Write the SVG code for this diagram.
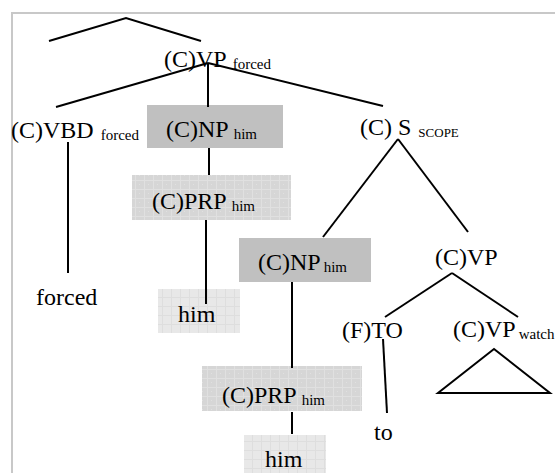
<svg xmlns="http://www.w3.org/2000/svg" width="555" height="473" viewBox="0 0 555 473" font-family="'Liberation Serif', 'DejaVu Serif', serif">
<style>
text{font-family:"Liberation Serif","DejaVu Serif",serif;fill:#000}
.m{font-size:24px}
.s{font-size:15px}
.sc{font-size:13px}
.e{stroke:#000;stroke-width:2;fill:none}
.g{fill:#c0c0c0}
.p1{fill:url(#pat1)}
.p2{fill:url(#pat2)}
</style>
<defs>
<pattern id="pat1" width="9" height="9" patternUnits="userSpaceOnUse">
<rect width="9" height="9" fill="#d6d6d6"/>
<path d="M0 0.5H9M0.5 0V9" stroke="#e0e0e0" stroke-width="1"/>
<rect x="4" y="4" width="1" height="1" fill="#e0e0e0"/>
</pattern>
<pattern id="pat2" width="9" height="9" patternUnits="userSpaceOnUse">
<rect width="9" height="9" fill="#e8e8e8"/>
<path d="M0 0.5H9M0.5 0V9" stroke="#dedede" stroke-width="1"/>
</pattern>
</defs>
<rect width="555" height="473" fill="#fff"/>
<path d="M12 473V13H555" stroke="#c8c8c8" stroke-width="2" fill="none"/>

<g id="connectors">
<polyline class="e" points="49,41 126,18 201,41"/>
<line class="e" x1="208" y1="63" x2="56" y2="107"/>
<line class="e" x1="208" y1="63" x2="208" y2="107"/>
<line class="e" x1="208" y1="63" x2="383" y2="106"/>
<line class="e" x1="68" y1="142" x2="68" y2="273"/>
<line class="e" x1="209" y1="142" x2="209" y2="183"/>
<line class="e" x1="206" y1="216" x2="206" y2="304"/>
<line class="e" x1="398" y1="139" x2="323" y2="237"/>
<line class="e" x1="398" y1="139" x2="468" y2="232"/>
<line class="e" x1="292" y1="280" x2="292" y2="368"/>
<line class="e" x1="292" y1="412" x2="292" y2="434"/>
<line class="e" x1="452" y1="273" x2="385" y2="317"/>
<line class="e" x1="452" y1="273" x2="518" y2="317"/>
<line class="e" x1="383" y1="339" x2="387" y2="413"/>
<polygon class="e" points="494,349 438,393 550,393"/>
</g>

<g id="vp-forced">
<text x="164" y="67"><tspan class="m">(C)VP</tspan><tspan class="s" dx="6" dy="2">forced</tspan></text>
</g>
<g id="vbd-forced">
<text x="11" y="138"><tspan class="m">(C)VBD</tspan><tspan class="s" dx="7" dy="2">forced</tspan></text>
</g>
<g id="np-him-1">
<rect class="g" x="147" y="105" width="136" height="43"/>
<line class="e" x1="208" y1="105" x2="208" y2="107"/>
<text x="166" y="137"><tspan class="m">(C)NP</tspan><tspan class="s" dx="5" dy="2">him</tspan></text>
</g>
<g id="prp-him-1">
<rect class="p1" x="132" y="175" width="159" height="45"/>
<text x="152" y="209"><tspan class="m">(C)PRP</tspan><tspan class="s" dx="5" dy="2">him</tspan></text>
</g>
<g id="him-1">
<rect class="p2" x="158" y="289" width="82" height="44"/>
<line class="e" x1="206" y1="289" x2="206" y2="304"/>
<text class="m" x="178" y="322">him</text>
</g>
<g id="forced-leaf">
<text class="m" x="36" y="305">forced</text>
</g>
<g id="s-scope">
<text x="360" y="135"><tspan class="m">(C) S</tspan><tspan class="sc" dx="7" dy="2">SCOPE</tspan></text>
</g>
<g id="np-him-2">
<rect class="g" x="239" y="238" width="132" height="44"/>
<text x="258" y="270"><tspan class="m">(C)NP</tspan><tspan class="s" dx="3" dy="2">him</tspan></text>
</g>
<g id="prp-him-2">
<rect class="p1" x="202" y="366" width="160" height="45"/>
<line class="e" x1="292" y1="366" x2="292" y2="368"/>
<text x="222" y="403"><tspan class="m">(C)PRP</tspan><tspan class="s" dx="5" dy="2">him</tspan></text>
</g>
<g id="him-2">
<rect class="p2" x="244" y="435" width="82" height="38"/>
<text class="m" x="265" y="467">him</text>
</g>
<g id="vp">
<text class="m" x="435" y="265">(C)VP</text>
</g>
<g id="f-to">
<text class="m" x="342" y="338">(F)TO</text>
</g>
<g id="to-leaf">
<text class="m" x="374" y="440">to</text>
</g>
<g id="vp-watch">
<text x="453" y="337"><tspan class="m">(C)VP</tspan><tspan class="s" dx="3" dy="2">watch</tspan></text>
</g>
</svg>
